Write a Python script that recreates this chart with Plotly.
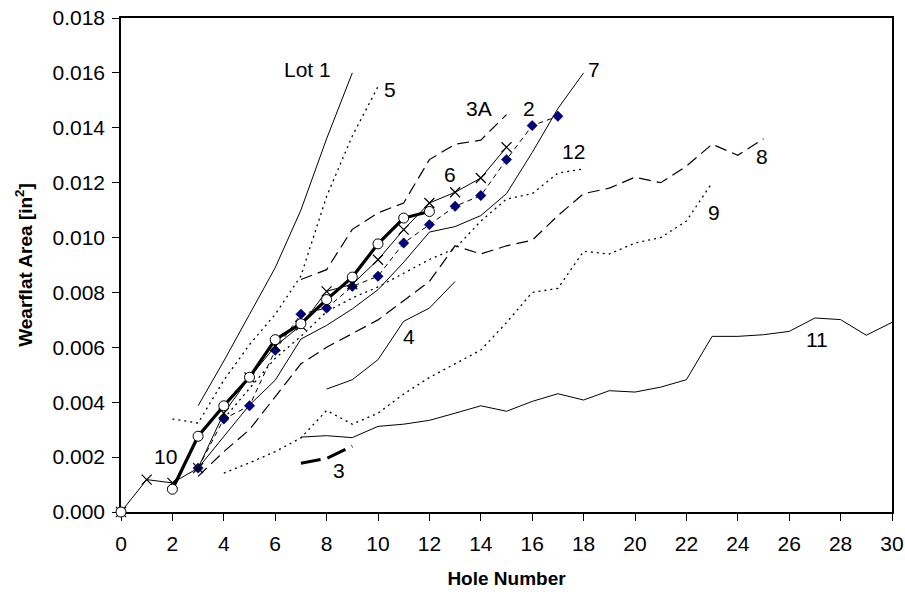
import plotly.graph_objects as go

# ---------------- data (wearflat area in in^2 vs hole number) ----------------
holes_lot1 = [3, 4, 5, 6, 7, 8, 9]
area_lot1 = [0.00387, 0.0055, 0.0072, 0.0089, 0.0110, 0.0136, 0.0160]

holes_5 = [2, 3, 4, 5, 6, 7, 8, 9, 10]
area_5 = [0.00339, 0.00324, 0.0048, 0.0061, 0.0072, 0.0086, 0.0115, 0.0137, 0.0155]

holes_12 = [4, 5, 6, 7, 8, 9, 10, 11, 12, 13, 14, 15, 16, 17, 18]
area_12 = [0.0034, 0.0045, 0.0056, 0.0064, 0.0073, 0.0078, 0.0082, 0.0087, 0.0092,
           0.0096, 0.0106, 0.0114, 0.0116, 0.01235, 0.0125]

holes_9 = [4, 5, 6, 7, 8, 9, 10, 11, 12, 13, 14, 15, 16, 17, 18, 19, 20, 21, 22, 23]
area_9 = [0.00142, 0.00179, 0.0022, 0.0027, 0.0037, 0.0032, 0.0036, 0.0043, 0.0049,
          0.0054, 0.0059, 0.0069, 0.0080, 0.00815, 0.0095, 0.0094, 0.0098, 0.0100,
          0.0106, 0.0120]

holes_8 = [3, 4, 5, 6, 7, 8, 9, 10, 11, 12, 13, 14, 15, 16, 17, 18, 19, 20, 21, 22, 23, 24, 25]
area_8 = [0.0013, 0.0022, 0.0030, 0.0042, 0.0054, 0.0060, 0.0065, 0.0070, 0.0077,
          0.0084, 0.0097, 0.0094, 0.0097, 0.0099, 0.0108, 0.0116, 0.0118, 0.0122,
          0.0120, 0.0126, 0.0134, 0.0130, 0.0136]

holes_7 = [3, 4, 5, 6, 7, 8, 9, 10, 11, 12, 13, 14, 15, 16, 17, 18]
area_7 = [0.0016, 0.00275, 0.0039, 0.0048, 0.0063, 0.0068, 0.0074, 0.0081, 0.0091,
          0.0102, 0.0104, 0.0108, 0.0116, 0.0131, 0.0147, 0.0160]

holes_4 = [8, 9, 10, 11, 12, 13]
area_4 = [0.00448, 0.00482, 0.00555, 0.00695, 0.00743, 0.0084]

holes_11 = [7, 8, 9, 10, 11, 12, 13, 14, 15, 16, 17, 18, 19, 20, 21, 22, 23, 24, 25,
            26, 27, 28, 29, 30]
area_11 = [0.00273, 0.00278, 0.00271, 0.00312, 0.0032, 0.00334, 0.0036, 0.00387,
           0.00367, 0.00403, 0.00431, 0.00408, 0.00442, 0.00437, 0.00455, 0.00482,
           0.0064, 0.0064, 0.00646, 0.00658, 0.00707, 0.00701, 0.00644, 0.00691]

holes_3 = [7, 8, 9]
area_3 = [0.00178, 0.00195, 0.0024]

holes_3a = [7, 8, 9, 10, 11, 12, 13, 14, 15]
area_3a = [0.00847, 0.00883, 0.0103, 0.0109, 0.01126, 0.01284, 0.0134, 0.01355, 0.01448]

holes_2 = [3, 4, 5, 6, 7, 8, 9, 10, 11, 12, 13, 14, 15, 16, 17]
area_2 = [0.0016, 0.00339, 0.00387, 0.00589, 0.00721, 0.00743, 0.00822, 0.00859,
          0.0098, 0.01047, 0.01114, 0.01153, 0.01284, 0.01408, 0.01442]

holes_6 = [0, 1, 2, 3, 4, 5, 6, 7, 8, 9, 10, 11, 12, 13, 14, 15]
area_6 = [0.0, 0.00118, 0.00106, 0.0016, 0.0036, 0.0049, 0.00604, 0.0068, 0.00804,
          0.0083, 0.00919, 0.01029, 0.01126, 0.01165, 0.01217, 0.01329]

holes_10 = [0, 1, 2, 3, 4, 5, 6, 7, 8, 9, 10, 11, 12]
area_10 = [0.0, None, 0.00083, 0.00276, 0.00387, 0.00491, 0.00628, 0.00686, 0.00774,
           0.00856, 0.00977, 0.01071, 0.01095]

# label text and anchor positions (hole, area)
label_text = ["Lot 1", "5", "3A", "2", "7", "6", "12", "8", "9", "10", "4", "3", "11"]
label_x = [7.24, 10.48, 13.94, 15.86, 18.39, 12.81, 17.59, 24.96, 23.06, 1.72, 11.19, 8.5, 27.08]
label_y = [0.01612, 0.01541, 0.01469, 0.01472, 0.01612, 0.01229, 0.01314, 0.01294,
           0.01092, 0.00203, 0.00638, 0.00152, 0.00628]

x_ticks = list(range(0, 31, 2))
y_ticks = [0.000, 0.002, 0.004, 0.006, 0.008, 0.010, 0.012, 0.014, 0.016, 0.018]

FONT = "Liberation Sans, Arial, sans-serif"
DOT = "2px,4px"
LDASH = "12px,6px"
SDASH = "5px,4px"

fig = go.Figure()


def add_line(x, y, dash="solid", width=1, color="black"):
    fig.add_trace(go.Scatter(x=x, y=y, mode="lines",
                             line=dict(color=color, width=width, dash=dash),
                             hoverinfo="skip", showlegend=False))


add_line(holes_lot1, area_lot1)
add_line(holes_5, area_5, DOT, 1.3)
add_line(holes_12, area_12, DOT, 1.3)
add_line(holes_9, area_9, DOT, 1.3)
add_line(holes_8, area_8, LDASH, 1.2)
add_line(holes_3a, area_3a, LDASH, 1.2)
add_line(holes_7, area_7)
add_line(holes_4, area_4)
add_line(holes_11, area_11)
add_line(holes_3, area_3, "20px,7px", 3)

# series 2 : dashed with navy diamonds
fig.add_trace(go.Scatter(x=holes_2, y=area_2, mode="lines+markers",
                         line=dict(color="black", width=1, dash=SDASH),
                         marker=dict(symbol="diamond", size=8, color="#000080",
                                     line=dict(color="#000033", width=0.5)),
                         hoverinfo="skip", showlegend=False))
# series 6 : thin solid with x markers
fig.add_trace(go.Scatter(x=holes_6, y=area_6, mode="lines+markers",
                         line=dict(color="black", width=1),
                         marker=dict(symbol="x-thin", size=10, color="black",
                                     line=dict(color="black", width=1.2)),
                         cliponaxis=False,
                         hoverinfo="skip", showlegend=False))
# series 10 : bold with open circles
fig.add_trace(go.Scatter(x=holes_10, y=area_10, mode="lines+markers",
                         connectgaps=False, cliponaxis=False,
                         line=dict(color="black", width=3.2),
                         marker=dict(symbol="circle", size=10, color="white",
                                     line=dict(color="black", width=1)),
                         hoverinfo="skip", showlegend=False))

for t, lx, ly in zip(label_text, label_x, label_y):
    fig.add_annotation(x=lx, y=ly, text=t, showarrow=False,
                       font=dict(family=FONT, size=21, color="black"),
                       xanchor="center", yanchor="middle")

fig.update_layout(
    width=905, height=598,
    margin=dict(l=121, r=13, t=18, b=86, autoexpand=False),
    paper_bgcolor="white", plot_bgcolor="white",
    font=dict(family=FONT, size=21, color="black"),
    showlegend=False,
)
fig.update_xaxes(range=[0, 30], tickvals=x_ticks, ticktext=[str(v) for v in x_ticks],
                 automargin=False, layer="below traces",
                 showgrid=False, zeroline=False, showline=True, linecolor="black",
                 linewidth=1.5, mirror=True, ticks="outside", ticklen=7,
                 tickcolor="black", tickwidth=1, ticklabelstandoff=5,
                 tickfont=dict(family=FONT, size=21),
                 title=dict(text="<b>Hole Number</b>", font=dict(family=FONT, size=19),
                            standoff=18))
fig.update_yaxes(range=[0, 0.018], tickvals=y_ticks, ticktext=[f"{v:.3f}" for v in y_ticks],
                 automargin=False, layer="below traces",
                 showgrid=False, zeroline=False, showline=True, linecolor="black",
                 linewidth=1.5, mirror=True, ticks="outside", ticklen=7,
                 tickcolor="black", tickwidth=1, ticklabelstandoff=3,
                 tickfont=dict(family=FONT, size=21),
                 title=dict(text="<b>Wearflat Area [in<sup>2</sup>]</b>",
                            font=dict(family=FONT, size=19), standoff=15))

# remove the default page margin so the figure sits at the window's top-left corner
fig.write_html("out.html", config={"displayModeBar": False},
               post_script="document.body.style.margin='0';"
                           "document.body.style.overflow='hidden';")
